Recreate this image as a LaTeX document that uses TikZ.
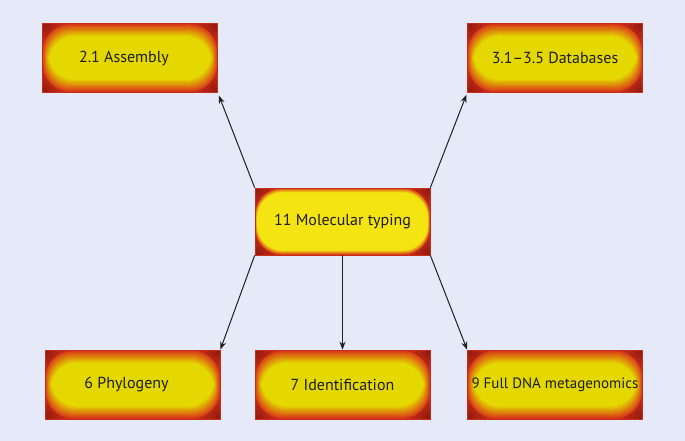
\documentclass[tikz,border=0pt]{standalone}
\usepackage{fontspec}
\setmainfont{PT Sans}
\usetikzlibrary{calc,arrows.meta}
\definecolor{bg}{RGB}{230,233,248}
\definecolor{cdark}{RGB}{150,26,16}
\definecolor{rd}{RGB}{216,50,26}
\definecolor{yel}{RGB}{228,216,0}
\definecolor{yelc}{RGB}{244,228,18}
\definecolor{txt}{RGB}{30,30,30}
\tikzset{
  gbox/.style n args={2}{minimum width=175pt, minimum height=69pt, inner sep=0pt,
    fill=rd, draw=rd!92!black, line width=0.7pt, font=\fontsize{16}{18}\selectfont, text=txt,
    path picture={
      \coordinate (pa) at (path picture bounding box.south west);
      \coordinate (pb) at (path picture bounding box.north east);
      \coordinate (pc) at (path picture bounding box.north west);
      \coordinate (pd) at (path picture bounding box.south east);
      \foreach \cc in {pa,pb,pc,pd}{
        \foreach \r/\q in {24/20,19/40,14/60,9/80,5/100}{
          \fill[cdark!\q!rd] (\cc) circle (\r pt);
        }
      }
      \foreach \k in {1,...,10}{
        \pgfmathtruncatemacro\p{\k*10}
        \fill[#2!\p!rd, rounded corners=26pt] ($(pa)+(\k*#1*0.6pt,\k*#1*1.25pt)$) rectangle ($(pb)-(\k*#1*0.6pt,\k*#1*1.25pt)$);
      }
    }},
  link/.style={-{Stealth[length=8pt,width=6pt]}, line width=1pt, black!88}
}
\begin{document}
\begin{tikzpicture}[x=1pt,y=-1pt]
\fill[bg] (0,0) rectangle (685,441);
\useasboundingbox (0,0) rectangle (685,441);
\node[gbox={1}{yel}] (asm) at (130,58) {\kern-12pt 2.1 Assembly};
\node[gbox={1}{yel}] (db) at (555,58) {3.1–3.5 Databases};
\node[gbox={0.35}{yelc}, minimum height=67pt] (mt) at (342.5,221.5) {11 Molecular typing};
\node[gbox={1}{yel}] (phy) at (132.5,384.5) {\kern-12pt 6 Phylogeny};
\node[gbox={1}{yel}] (id) at (342.5,384.5) {7 Identification};
\node[gbox={1}{yel}, font=\fontsize{15}{17}\selectfont] (dna) at (555,384.5) {9 Full DNA metagenomics};
\draw[link, shorten >=3pt] (mt.north west) -- (asm.south east);
\draw[link, shorten >=2pt] (mt.north east) -- (db.south west);
\draw[link] (mt.south west) -- (phy.north east);
\draw[link] (mt.south) -- (id.north);
\draw[link] (mt.south east) -- (dna.north west);
\end{tikzpicture}
\end{document}
